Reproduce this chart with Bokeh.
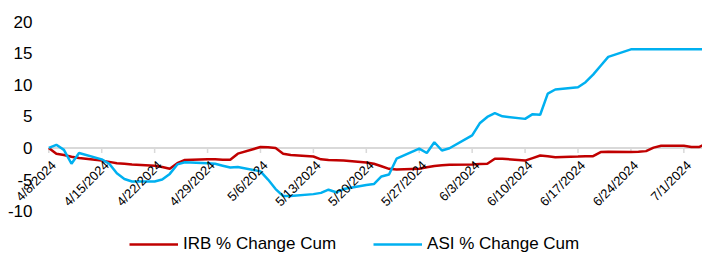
from datetime import datetime, timedelta
import math
from bokeh.plotting import figure
from bokeh.models import (ColumnDataSource, Range1d, LabelSet, Legend, LegendItem)
from bokeh.core.properties import value
from bokeh.embed import file_html
from bokeh.resources import INLINE

# ---------------- data ----------------
dates = [
    "2024-04-08", "2024-04-09", "2024-04-10", "2024-04-11", "2024-04-12",
    "2024-04-15", "2024-04-16", "2024-04-17", "2024-04-18", "2024-04-19",
    "2024-04-22", "2024-04-23", "2024-04-24", "2024-04-25", "2024-04-26",
    "2024-04-29", "2024-04-30", "2024-05-01", "2024-05-02", "2024-05-03",
    "2024-05-06", "2024-05-07", "2024-05-08", "2024-05-09", "2024-05-10",
    "2024-05-13", "2024-05-14", "2024-05-15", "2024-05-16", "2024-05-17",
    "2024-05-20", "2024-05-21", "2024-05-22", "2024-05-23", "2024-05-24",
    "2024-05-27", "2024-05-28", "2024-05-29", "2024-05-30", "2024-05-31",
    "2024-06-03", "2024-06-04", "2024-06-05", "2024-06-06", "2024-06-07",
    "2024-06-10", "2024-06-11", "2024-06-12", "2024-06-13", "2024-06-14",
    "2024-06-17", "2024-06-18", "2024-06-19", "2024-06-20", "2024-06-21",
    "2024-06-24", "2024-06-25", "2024-06-26", "2024-06-27", "2024-06-28",
    "2024-07-01", "2024-07-02", "2024-07-03", "2024-07-04", "2024-07-05",
]

irb = [
    0.0, -0.9, -1.1, -1.4, -1.6,
    -2.0, -2.2, -2.4, -2.5, -2.6,
    -2.8, -3.0, -3.3, -2.4, -1.9,
    -1.8, -1.8, -1.85, -1.85, -0.9,
    0.15, 0.1, 0.0, -0.9, -1.1,
    -1.35, -1.8, -1.9, -1.95, -2.0,
    -2.3, -2.5, -2.9, -3.3, -3.4,
    -3.3, -3.05, -2.85, -2.75, -2.65,
    -2.6, -2.55, -2.5, -1.7, -1.7,
    -2.0, -1.6, -1.2, -1.3, -1.45,
    -1.35, -1.3, -1.3, -0.65, -0.6,
    -0.65, -0.6, -0.5, 0.05, 0.35,
    0.35, 0.15, 0.15, 0.7, 0.1,
]

asi = [
    0.0, 0.5, -0.3, -2.5, -0.8,
    -1.8, -2.5, -4.0, -4.9, -5.3,
    -5.3, -5.0, -4.1, -2.6, -2.25,
    -2.4, -2.5, -2.8, -3.1, -3.0,
    -3.7, -5.0, -6.5, -7.6, -7.6,
    -7.3, -7.1, -6.6, -7.0, -6.5,
    -5.85, -5.7, -4.5, -4.2, -1.7,
    -0.1, -0.8, 0.9, -0.4, -0.05,
    2.0, 3.9, 4.9, 5.5, 5.0,
    4.6, 5.35, 5.25, 8.6, 9.25,
    9.6, 10.4, 11.6, 13.0, 14.4,
    15.6, 15.6, 15.6, 15.6, 15.6,
    15.6, 15.6, 15.6, 15.6, 15.6,
]

tick_dates = ["2024-04-08", "2024-04-15", "2024-04-22", "2024-04-29", "2024-05-06",
              "2024-05-13", "2024-05-20", "2024-05-27", "2024-06-03", "2024-06-10",
              "2024-06-17", "2024-06-24", "2024-07-01"]
tick_labels = ["4/8/2024", "4/15/2024", "4/22/2024", "4/29/2024", "5/6/2024",
               "5/13/2024", "5/20/2024", "5/27/2024", "6/3/2024", "6/10/2024",
               "6/17/2024", "6/24/2024", "7/1/2024"]
y_ticks = [-10, -5, 0, 5, 10, 15, 20]
y_tick_labels = ["-10", "-5", "0", "5", "10", "15", "20"]
y_min, y_max = -10, 20

series_names = ["IRB % Change Cum", "ASI % Change Cum"]
series_colors = ["#C00000", "#00B0F0"]

# ---------------- layout (pixels) ----------------
W, H = 702, 253
FONT = "Liberation Sans"
PLOT_LEFT = 48.3          # pixel of first date
DAY_PX = 7.56             # pixels per day
Y_TOP_PX, Y_BOT_PX = 21.0, 210.7   # pixels of y_max / y_min

to_dt = lambda s: datetime.strptime(s, "%Y-%m-%d")
x = [to_dt(d) for d in dates]
tx = [to_dt(d) for d in tick_dates]

x0 = to_dt(dates[0]) - timedelta(days=PLOT_LEFT / DAY_PX)
x1 = x0 + timedelta(days=W / DAY_PX)
upp = (y_max - y_min) / (Y_BOT_PX - Y_TOP_PX)
ys = y_max + Y_TOP_PX * upp
ye = y_min - (H - Y_BOT_PX) * upp

p = figure(width=W, height=H, output_backend="svg", toolbar_location=None,
           x_axis_location=None, y_axis_location=None,
           x_range=Range1d(x0, x1), y_range=Range1d(ye, ys),
           min_border=0)
p.outline_line_color = None
p.xgrid.visible = False
p.ygrid.visible = False
p.background_fill_color = "white"
p.border_fill_color = "white"

# category axis line at zero with tick marks
p.line(x=[to_dt(dates[0]), to_dt(dates[-1])], y=[0, 0], line_color="#D9D9D9", line_width=2)
p.segment(x0=tx, y0=[0] * len(tx), x1=tx, y1=[-0.8] * len(tx),
          line_color="#D9D9D9", line_width=1.5)

src = ColumnDataSource(dict(x=x, irb=irb, asi=asi))
r1 = p.line("x", "irb", source=src, line_color=series_colors[0], line_width=2.5)
r2 = p.line("x", "asi", source=src, line_color=series_colors[1], line_width=2.5)

# x tick labels (rotated)
lab_src = ColumnDataSource(dict(x=tx, y=[0] * len(tx), text=tick_labels))
p.add_layout(LabelSet(x="x", y="y", text="text", source=lab_src, angle=math.pi / 4,
                      text_align="right", text_baseline="middle",
                      x_offset=5, y_offset=-15,
                      text_font=value(FONT), text_font_size=value("13px"),
                      text_color=value("#000000")))

# y tick labels
ylab_src = ColumnDataSource(dict(x=[32] * len(y_ticks), y=y_ticks, text=y_tick_labels))
p.add_layout(LabelSet(x="x", y="y", text="text", source=ylab_src, x_units="screen",
                      text_align="right", text_baseline="middle",
                      text_font=value(FONT), text_font_size=value("17px"),
                      text_color=value("#000000")))

legend = Legend(items=[LegendItem(label=series_names[0], renderers=[r1]),
                       LegendItem(label=series_names[1], renderers=[r2])],
                orientation="horizontal", location=(129, -1),
                glyph_width=49, glyph_height=18, label_standoff=5, spacing=37,
                padding=0, margin=0, border_line_color=None,
                background_fill_alpha=0,
                label_text_font=FONT, label_text_font_size="17px",
                label_text_color="#000000")
p.add_layout(legend)

open("out.html", "w").write(file_html(p, INLINE))
